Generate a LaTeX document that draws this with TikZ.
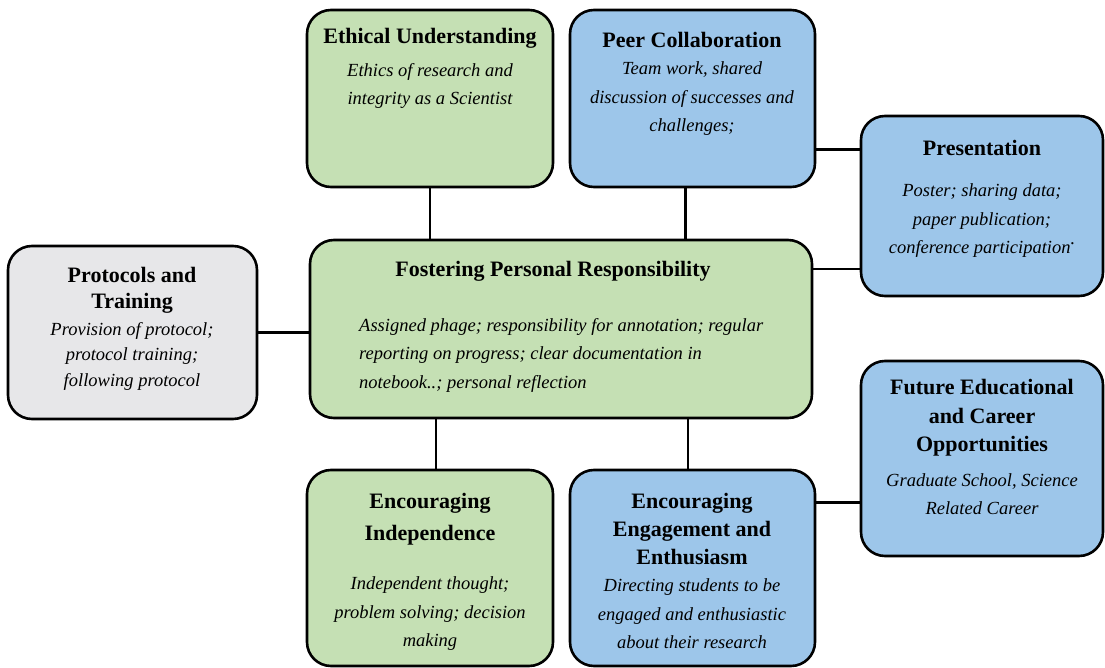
\documentclass[tikz,border=0pt]{standalone}
\usepackage{fontspec}
\setmainfont{Liberation Serif}
\usetikzlibrary{calc}
\definecolor{gfill}{RGB}{197,224,180}
\definecolor{bfill}{RGB}{157,198,234}
\definecolor{gyfill}{RGB}{231,231,233}
\tikzset{
  card/.style={draw=black, line width=2.6pt, rounded corners=24pt, inner sep=0pt},
  ttl/.style={font=\bfseries\fontsize{22}{29}\selectfont, align=center, inner sep=0pt},
  bod/.style={font=\itshape\fontsize{18.5}{28.5}\selectfont, align=center, inner sep=0pt},
  link/.style={draw=black, line width=2.6pt}
}
\begin{document}
\begin{tikzpicture}[x=1pt,y=-1pt]
\useasboundingbox (0,0) rectangle (1105,668);
% boxes
\node[card, fill=gfill, minimum width=246pt, minimum height=177pt] (eth) at (430,98.5) {};
\node[card, fill=bfill, minimum width=245pt, minimum height=177pt] (peer) at (692.5,98.5) {};
\node[card, fill=bfill, minimum width=242pt, minimum height=180pt] (pres) at (982,206) {};
\node[card, fill=gyfill, minimum width=249pt, minimum height=173pt] (prot) at (132.5,332.5) {};
\node[card, fill=gfill, minimum width=502pt, minimum height=178pt] (fost) at (561,329) {};
\node[card, fill=bfill, minimum width=242pt, minimum height=195pt] (fut) at (982,458.5) {};
\node[card, fill=gfill, minimum width=246pt, minimum height=196pt] (indep) at (430,568) {};
\node[card, fill=bfill, minimum width=245pt, minimum height=196pt] (eng) at (692.5,568) {};
% connector anchor points
\coordinate (pkA) at ($(peer.south)+(-7,0)$);
\coordinate (inA) at ($(indep.north)+(6,0)$);
\coordinate (enA) at ($(eng.north)+(-4.5,0)$);
\coordinate (prA) at ($(pres.north west)!0.189!(pres.south west)$);
\coordinate (prB) at ($(pres.north west)!0.844!(pres.south west)$);
\coordinate (fuA) at ($(fut.north west)!0.723!(fut.south west)$);
% connectors
\draw[link] (eth.south) -- (eth.south |- fost.north);
\draw[link] (pkA) -- (pkA |- fost.north);
\draw[link] (prA) -- (prA -| peer.east);
\draw[link] (prB) -- (prB -| fost.east);
\draw[link] (prot.east) -- (prot.east -| fost.west);
\draw[link] (inA) -- (inA |- fost.south);
\draw[link] (enA) -- (enA |- fost.south);
\draw[link] (fuA) -- (fuA -| eng.east);
% texts
\node[ttl] (ethT) at (430,38) {Ethical Understanding};
\node[bod] (ethB) at (430,86) {Ethics of research and\\integrity as a Scientist};
\node[ttl] (peerT) at (692,40) {Peer Collaboration};
\node[bod] (peerB) at (692,99) {Team work, shared\\discussion of successes and\\challenges;};
\node[ttl] (presT) at (982,148) {Presentation};
\node[bod] (presB) at (982,221) {Poster; sharing data;\\paper publication;\\conference participation\raisebox{1.1ex}{.}};
\node[ttl, font=\bfseries\fontsize{22}{26}\selectfont] (protT) at (132,290) {Protocols and\\Training};
\node[bod, font=\itshape\fontsize{18.5}{25.5}\selectfont] (protB) at (132,356) {Provision of protocol;\\protocol training;\\following protocol};
\node[ttl] (fostT) at (553,271) {Fostering Personal Responsibility};
\node[bod, align=left, anchor=west] (fostB) at (359,355) {Assigned phage; responsibility for annotation; regular\\reporting on progress; clear documentation in\\notebook..; personal reflection};
\node[ttl, font=\bfseries\fontsize{22}{28.5}\selectfont] (futT) at (982,418) {Future Educational\\and Career\\Opportunities};
\node[bod] (futB) at (982,494) {Graduate School, Science\\Related Career};
\node[ttl, font=\bfseries\fontsize{22}{32}\selectfont] (indT) at (430,519) {Encouraging\\Independence};
\node[bod] (indB) at (430,614) {Independent thought;\\problem solving; decision\\making};
\node[ttl, font=\bfseries\fontsize{22}{28}\selectfont] (engT) at (692,529) {Encouraging\\Engagement and\\Enthusiasm};
\node[bod] (engB) at (692,614) {Directing students to be\\engaged and enthusiastic\\about their research};
\end{tikzpicture}
\end{document}
